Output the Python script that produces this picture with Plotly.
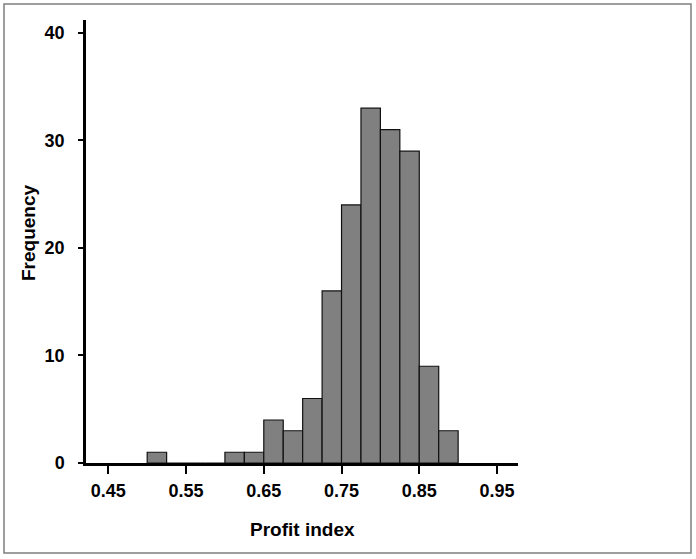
import plotly.graph_objects as go

# histogram data (bin width 0.025)
bin_left = [0.500, 0.525, 0.550, 0.575, 0.600, 0.625, 0.650, 0.675, 0.700,
            0.725, 0.750, 0.775, 0.800, 0.825, 0.850, 0.875]
counts = [1, 0, 0, 0, 1, 1, 4, 3, 6, 16, 24, 33, 31, 29, 9, 3]
bin_width = 0.025

x_ticks = [0.45, 0.55, 0.65, 0.75, 0.85, 0.95]
x_tick_text = ["0.45", "0.55", "0.65", "0.75", "0.85", "0.95"]
y_ticks = [0, 10, 20, 30, 40]

W, H = 696, 559
ml, mr, mt, mb = 86, 178, 20, 96
pw, ph = W - ml - mr, H - mt - mb

centers = [b + bin_width / 2 for b in bin_left]

fig = go.Figure(go.Bar(
    x=centers, y=counts, width=bin_width,
    marker=dict(color="#808080", line=dict(color="#111111", width=1.2)),
    hoverinfo="x+y",
))

tick_font = dict(size=18, family="Liberation Sans, Arial", color="black", weight="bold")

fig.update_layout(
    width=W, height=H,
    margin=dict(l=ml, r=mr, t=mt, b=mb),
    plot_bgcolor="white", paper_bgcolor="white",
    showlegend=False,
    font=dict(family="Liberation Sans, Arial, sans-serif", color="black"),
    xaxis=dict(
        range=[0.4213, 0.977], tickvals=x_ticks, ticktext=x_tick_text,
        showgrid=False, zeroline=False,
        showline=True, linecolor="black", linewidth=2.5,
        ticks="outside", ticklen=8, tickwidth=1.5, tickcolor="black",
        tickfont=tick_font, ticklabelstandoff=2,
    ),
    yaxis=dict(
        range=[0, 41.2], tickvals=y_ticks,
        showgrid=False, zeroline=False,
        showline=True, linecolor="black", linewidth=2.5,
        ticks="outside", ticklen=5, tickwidth=1.5, tickcolor="black",
        tickfont=tick_font, ticklabelstandoff=10,
    ),
)

# axis titles placed as annotations to match the original spots
fig.add_annotation(
    text="<b>Profit index</b>", xref="paper", yref="paper",
    x=(302 - ml) / pw, y=(H - mb - 529) / ph,
    xanchor="center", yanchor="middle", showarrow=False,
    font=dict(size=19, color="black"),
)
fig.add_annotation(
    text="<b>Frequency</b>", xref="paper", yref="paper",
    x=(29 - ml) / pw, y=(H - mb - 233) / ph, textangle=-90,
    xanchor="center", yanchor="middle", showarrow=False,
    font=dict(size=19, color="black"),
)

# grey frame around the whole picture
fig.add_shape(
    type="rect", xref="paper", yref="paper",
    x0=(4 - ml) / pw, x1=(691 - ml) / pw,
    y0=(H - mb - 553) / ph, y1=(H - mb - 4) / ph,
    line=dict(color="#7f7f7f", width=1.5), fillcolor="rgba(0,0,0,0)",
    layer="below",
)

# page without body margin so the figure fills the window exactly
fig.write_html("out.html", config={"displayModeBar": False},
               post_script="document.body.style.margin='0';")
